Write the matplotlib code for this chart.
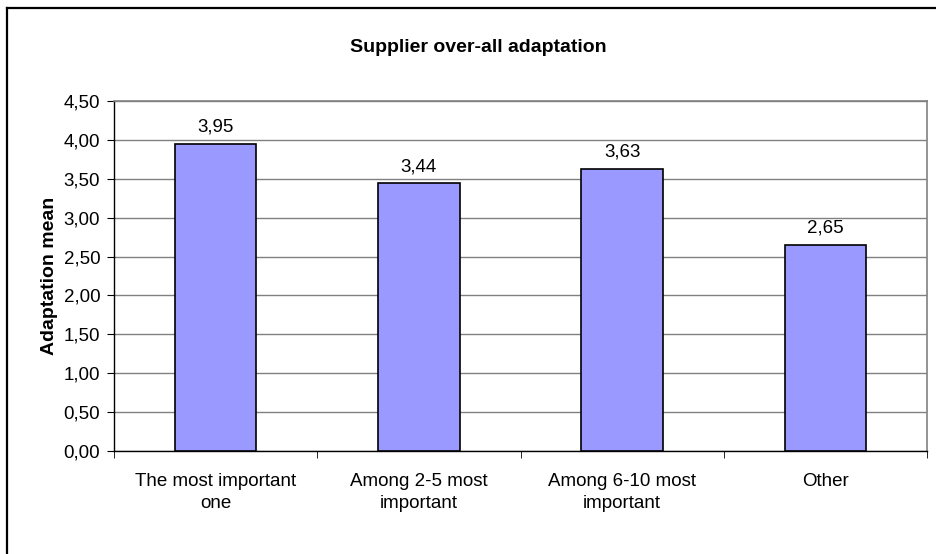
import numpy as np
import matplotlib.pyplot as plt
from matplotlib.lines import Line2D
from matplotlib.ticker import MultipleLocator, FuncFormatter

## DATA ##
categories = ['The most important\none', 'Among 2-5 most\nimportant',
              'Among 6-10 most\nimportant', 'Other']
means = [3.95, 3.44, 3.63, 2.65]

def comma(v, pos=None):
    return '{:.2f}'.format(v).replace('.', ',')

## PLOT ##
plt.rcParams['font.family'] = ['Liberation Sans', 'DejaVu Sans']
fig = plt.figure(figsize=(9.37, 5.54), dpi=100)
ax = fig.add_axes([0.1217, 0.1859, 0.8676, 0.6318])

ind = np.arange(len(categories))
bars = ax.bar(ind, means, 0.40, color='#9999FF', edgecolor='black', linewidth=1.2, zorder=3)
for b, v in zip(bars, means):
    ax.annotate(comma(v), (b.get_x() + b.get_width() / 2, v), xytext=(0, 12),
                textcoords='offset points', ha='center', va='center', fontsize=13.5)

ax.set_xlim(-0.5, len(categories) - 0.5)
ax.set_ylim(0, 4.5)
ax.yaxis.set_major_locator(MultipleLocator(0.5))
ax.yaxis.set_major_formatter(FuncFormatter(comma))
ax.yaxis.grid(True, color='#808080', linewidth=1, zorder=0)

ax.set_xticks(ind)
ax.set_xticklabels(categories, fontsize=13.5, linespacing=1.45)
ax.tick_params(axis='x', length=0, pad=15.5)
ax.set_xticks(np.arange(len(categories) + 1) - 0.5, minor=True)
ax.tick_params(axis='x', which='minor', length=5, direction='out', color='black')
ax.tick_params(axis='y', length=5, direction='out', labelsize=13.5, pad=5)

for s in ['top', 'right']:
    ax.spines[s].set_color('#808080')
    ax.spines[s].set_linewidth(1.2)
for s in ['left', 'bottom']:
    ax.spines[s].set_color('black')
    ax.spines[s].set_linewidth(1.0)

ax.set_ylabel('Adaptation mean', fontsize=14, fontweight='bold', labelpad=4)
fig.text(0.510, 0.915, 'Supplier over-all adaptation', ha='center', va='center',
         fontsize=14, fontweight='bold')

# chart frame, left and top edge
fig.add_artist(Line2D([0.0075, 0.0075], [-0.1, 0.986], color='black', linewidth=1.6))
fig.add_artist(Line2D([0.0075, 1.1], [0.986, 0.986], color='black', linewidth=1.6))

plt.savefig('out.png', dpi=100)
